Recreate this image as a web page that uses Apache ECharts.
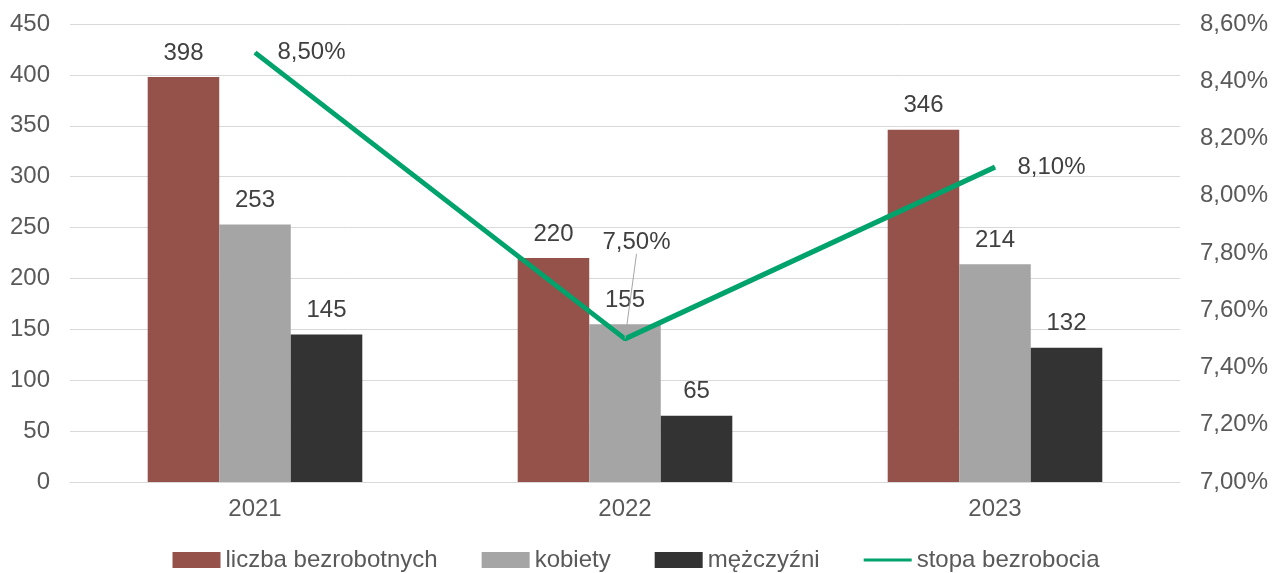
<!DOCTYPE html>
<html><head><meta charset="utf-8">
<script src="https://cdn.jsdelivr.net/npm/echarts@6/dist/echarts.min.js"></script>
<style>html,body{margin:0;padding:0;background:#fff}#c{width:1272px;height:573px}</style>
</head><body><div id="c"></div>
<script>
const categories = ['2021', '2022', '2023'];
const liczba = [398, 220, 346];
const kobiety = [253, 155, 214];
const mezczyzni = [145, 65, 132];
const stopa = [8.5, 7.5, 8.1];
const leftTicks = {min: 0, max: 450, interval: 50};
const rightTicks = {min: 7.0, max: 8.6, interval: 0.2};

const FONT = '"Liberation Sans", Arial, sans-serif';
const FS = 24;
const chart = echarts.init(document.getElementById('c'));
const barLabel = {show: true, position: 'top', distance: 12, color: '#404040', fontSize: FS, fontFamily: FONT};
const fmtPct = v => v.toFixed(2).replace('.', ',') + '%';
const stopaData = stopa.map((v, i) => ({
  value: v,
  labelLine: {show: i === 1, lineStyle: {color: '#a6a6a6', width: 1}}
}));
chart.setOption({
  animation: false,
  textStyle: {fontFamily: FONT},
  grid: {left: 70, right: 92, top: 24, bottom: 91},
  legend: {
    bottom: -4, left: 'center', itemWidth: 48, itemHeight: 16, itemGap: 44,
    textStyle: {fontSize: FS, color: '#595959', fontFamily: FONT},
    data: [
      {name: 'liczba bezrobotnych', icon: 'rect'},
      {name: 'kobiety', icon: 'rect'},
      {name: 'mężczyźni', icon: 'rect'},
      {name: 'stopa bezrobocia', icon: 'path://M0,6.5 L48,6.5 L48,9.5 L0,9.5 Z'}
    ]
  },
  xAxis: {
    type: 'category', data: categories,
    axisLine: {lineStyle: {color: '#d9d9d9'}},
    axisTick: {show: false},
    axisLabel: {color: '#595959', fontSize: FS, margin: 15}
  },
  yAxis: [
    {type: 'value', min: leftTicks.min, max: leftTicks.max, interval: leftTicks.interval,
     axisLabel: {color: '#595959', fontSize: FS, margin: 20},
     splitLine: {lineStyle: {color: '#d9d9d9'}}, axisLine: {show: false}, axisTick: {show: false}},
    {type: 'value', min: rightTicks.min, max: rightTicks.max, interval: rightTicks.interval,
     axisLabel: {color: '#595959', fontSize: FS, margin: 20, formatter: fmtPct},
     splitLine: {show: false}, axisLine: {show: false}, axisTick: {show: false}}
  ],
  series: [
    {name: 'liczba bezrobotnych', type: 'bar', data: liczba, barGap: '0%', barCategoryGap: '42%',
     itemStyle: {color: '#94524A'}, label: barLabel},
    {name: 'kobiety', type: 'bar', data: kobiety, itemStyle: {color: '#A5A5A5'}, label: barLabel},
    {name: 'mężczyźni', type: 'bar', data: mezczyzni, itemStyle: {color: '#333333'}, label: barLabel},
    {name: 'stopa bezrobocia', type: 'line', yAxisIndex: 1, data: stopaData,
     symbol: 'circle', symbolSize: 1, showSymbol: true,
     lineStyle: {color: '#00A36C', width: 5}, itemStyle: {color: '#00A36C'},
     z: 5,
     label: {show: true, position: 'right', distance: 22, color: '#404040', fontSize: FS, fontFamily: FONT,
             formatter: p => fmtPct(p.value)},
     labelLayout: p => p.dataIndex === 1 ? {dx: -45, dy: -97} : {}
    }
  ]
});
</script></body></html>
